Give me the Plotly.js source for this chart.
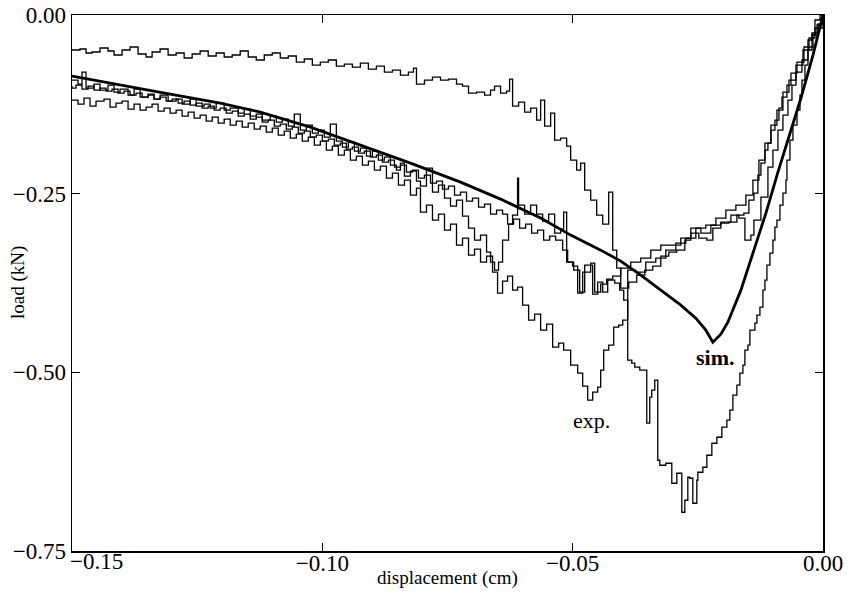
<!DOCTYPE html>
<html>
<head>
<meta charset="utf-8">
<script src="https://cdn.plot.ly/plotly-3.0.1.min.js"></script>
<style>html,body{margin:0;padding:0;background:#fff;}#chart{width:853px;height:599px;}</style>
</head>
<body>
<div id="chart"></div>
<script>
// ---------------- data (displacement in cm, load in kN) ----------------
var simX = [-0.1500,-0.1404,-0.1304,-0.1204,-0.1124,-0.1024,-0.0924,-0.0824,-0.0724,-0.0644,-0.0564,-0.0504,-0.0444,-0.0404,-0.0364,-0.0324,-0.0284,-0.0254,-0.0234,-0.0220,-0.0204,-0.0190,-0.0164,-0.0138,-0.0114,-0.0090,-0.0066,-0.0044,-0.0020,0.0000];
var simY = [-0.0854,-0.0980,-0.1106,-0.1232,-0.1358,-0.1568,-0.1820,-0.2072,-0.2338,-0.2576,-0.2842,-0.3080,-0.3290,-0.3444,-0.3640,-0.3850,-0.4060,-0.4242,-0.4410,-0.4578,-0.4466,-0.4298,-0.3850,-0.3290,-0.2772,-0.2198,-0.1652,-0.1162,-0.0560,0.0000];

// experiment 1 (upper curve)
var expAX = [-0.1500,-0.1484,-0.1472,-0.1460,-0.1444,-0.1428,-0.1416,-0.1400,-0.1384,-0.1368,-0.1352,-0.1340,-0.1324,-0.1308,-0.1292,-0.1276,-0.1260,-0.1244,-0.1228,-0.1212,-0.1196,-0.1180,-0.1164,-0.1148,-0.1132,-0.1116,-0.1100,-0.1084,-0.1068,-0.1052,-0.1036,-0.1020,-0.1004,-0.0988,-0.0972,-0.0956,-0.0940,-0.0924,-0.0908,-0.0892,-0.0876,-0.0860,-0.0844,-0.0828,-0.0818,-0.0812,-0.0796,-0.0780,-0.0764,-0.0748,-0.0732,-0.0720,-0.0708,-0.0692,-0.0676,-0.0664,-0.0656,-0.0644,-0.0632,-0.0626,-0.0620,-0.0608,-0.0596,-0.0584,-0.0572,-0.0564,-0.0556,-0.0544,-0.0536,-0.0524,-0.0512,-0.0504,-0.0492,-0.0484,-0.0476,-0.0464,-0.0452,-0.0440,-0.0428,-0.0420,-0.0412,-0.0404,-0.0388,-0.0372,-0.0356,-0.0340,-0.0324,-0.0308,-0.0292,-0.0276,-0.0264,-0.0248,-0.0232,-0.0220,-0.0204,-0.0188,-0.0172,-0.0158,-0.0148,-0.0138,-0.0130,-0.0124,-0.0116,-0.0110,-0.0104,-0.0096,-0.0088,-0.0082,-0.0072,-0.0064,-0.0052,-0.0038,-0.0030,-0.0022,-0.0012,-0.0004,0.0000];
var expAY = [-0.0490,-0.0476,-0.0532,-0.0518,-0.0462,-0.0504,-0.0560,-0.0490,-0.0448,-0.0546,-0.0588,-0.0518,-0.0476,-0.0560,-0.0532,-0.0602,-0.0546,-0.0504,-0.0574,-0.0532,-0.0588,-0.0560,-0.0504,-0.0588,-0.0630,-0.0560,-0.0532,-0.0602,-0.0574,-0.0658,-0.0616,-0.0700,-0.0658,-0.0630,-0.0714,-0.0686,-0.0728,-0.0672,-0.0756,-0.0714,-0.0798,-0.0770,-0.0840,-0.0798,-0.0742,-0.0966,-0.0910,-0.0868,-0.0910,-0.0896,-0.0966,-0.0994,-0.1092,-0.1078,-0.1120,-0.1050,-0.0994,-0.1092,-0.1064,-0.0896,-0.1274,-0.1218,-0.1358,-0.1302,-0.1470,-0.1190,-0.1554,-0.1372,-0.1750,-0.1722,-0.1834,-0.2030,-0.2170,-0.2072,-0.2450,-0.2590,-0.2800,-0.2926,-0.2478,-0.3290,-0.3542,-0.3822,-0.3738,-0.3640,-0.3570,-0.3514,-0.3374,-0.3318,-0.3290,-0.3150,-0.3052,-0.3122,-0.3150,-0.2982,-0.2912,-0.2898,-0.2800,-0.2772,-0.2590,-0.2492,-0.2240,-0.2072,-0.1890,-0.1792,-0.1610,-0.1470,-0.1302,-0.1148,-0.0980,-0.0812,-0.0658,-0.0448,-0.0350,-0.0252,-0.0140,-0.0042,0.0000];

// experiment 2 (middle curve, close to the simulation)
var expBX = [-0.1500,-0.1488,-0.1480,-0.1472,-0.1456,-0.1444,-0.1428,-0.1416,-0.1404,-0.1388,-0.1376,-0.1364,-0.1348,-0.1336,-0.1324,-0.1308,-0.1292,-0.1280,-0.1264,-0.1252,-0.1236,-0.1224,-0.1212,-0.1196,-0.1184,-0.1168,-0.1156,-0.1144,-0.1132,-0.1120,-0.1104,-0.1092,-0.1080,-0.1068,-0.1056,-0.1044,-0.1032,-0.1020,-0.1008,-0.0996,-0.0984,-0.0972,-0.0960,-0.0948,-0.0936,-0.0924,-0.0912,-0.0900,-0.0888,-0.0876,-0.0864,-0.0852,-0.0844,-0.0836,-0.0824,-0.0812,-0.0804,-0.0792,-0.0780,-0.0768,-0.0756,-0.0744,-0.0732,-0.0720,-0.0708,-0.0696,-0.0684,-0.0672,-0.0664,-0.0656,-0.0648,-0.0640,-0.0628,-0.0620,-0.0610,-0.0608,-0.0596,-0.0584,-0.0572,-0.0560,-0.0548,-0.0536,-0.0524,-0.0518,-0.0512,-0.0500,-0.0490,-0.0480,-0.0464,-0.0456,-0.0444,-0.0432,-0.0420,-0.0404,-0.0384,-0.0364,-0.0344,-0.0324,-0.0304,-0.0284,-0.0264,-0.0244,-0.0224,-0.0204,-0.0184,-0.0168,-0.0156,-0.0144,-0.0138,-0.0124,-0.0110,-0.0100,-0.0090,-0.0080,-0.0070,-0.0062,-0.0054,-0.0042,-0.0030,-0.0020,-0.0010,0.0000];
var expBY = [-0.0910,-0.0966,-0.0798,-0.1022,-0.0966,-0.1050,-0.0980,-0.1078,-0.1036,-0.1120,-0.1036,-0.1148,-0.1106,-0.1176,-0.1120,-0.1204,-0.1176,-0.1246,-0.1176,-0.1274,-0.1246,-0.1302,-0.1232,-0.1330,-0.1302,-0.1372,-0.1316,-0.1414,-0.1386,-0.1470,-0.1414,-0.1498,-0.1456,-0.1554,-0.1386,-0.1610,-0.1540,-0.1652,-0.1610,-0.1708,-0.1526,-0.1764,-0.1848,-0.1778,-0.1904,-0.1862,-0.1974,-0.1904,-0.2030,-0.1988,-0.2100,-0.2170,-0.2072,-0.2254,-0.2184,-0.2324,-0.2394,-0.2142,-0.2478,-0.2380,-0.2562,-0.2674,-0.2590,-0.2814,-0.2982,-0.3150,-0.3080,-0.3318,-0.3458,-0.3570,-0.3458,-0.3150,-0.2926,-0.2800,-0.2282,-0.2660,-0.2786,-0.2660,-0.2786,-0.2884,-0.2786,-0.3052,-0.2996,-0.2758,-0.3458,-0.3514,-0.3892,-0.3598,-0.3472,-0.3878,-0.3766,-0.3696,-0.3654,-0.3542,-0.3458,-0.3402,-0.3290,-0.3220,-0.3220,-0.3122,-0.2982,-0.3052,-0.2940,-0.2898,-0.2800,-0.2842,-0.3150,-0.3080,-0.2870,-0.2548,-0.2128,-0.1890,-0.1610,-0.1400,-0.1190,-0.0980,-0.0798,-0.0630,-0.0448,-0.0280,-0.0126,0.0000];

// experiment 3 (lower curve, peak marked "exp.")
var expCX = [-0.1500,-0.1488,-0.1476,-0.1464,-0.1452,-0.1436,-0.1424,-0.1412,-0.1400,-0.1388,-0.1376,-0.1364,-0.1352,-0.1340,-0.1328,-0.1316,-0.1304,-0.1292,-0.1280,-0.1268,-0.1256,-0.1244,-0.1232,-0.1220,-0.1208,-0.1196,-0.1184,-0.1172,-0.1160,-0.1148,-0.1136,-0.1124,-0.1112,-0.1100,-0.1088,-0.1076,-0.1064,-0.1052,-0.1040,-0.1028,-0.1016,-0.1004,-0.0992,-0.0980,-0.0968,-0.0956,-0.0944,-0.0932,-0.0920,-0.0908,-0.0896,-0.0884,-0.0872,-0.0860,-0.0848,-0.0836,-0.0824,-0.0812,-0.0804,-0.0792,-0.0780,-0.0768,-0.0756,-0.0744,-0.0732,-0.0720,-0.0708,-0.0696,-0.0684,-0.0672,-0.0660,-0.0650,-0.0640,-0.0630,-0.0620,-0.0610,-0.0600,-0.0588,-0.0576,-0.0564,-0.0552,-0.0540,-0.0528,-0.0518,-0.0504,-0.0490,-0.0480,-0.0470,-0.0460,-0.0450,-0.0444,-0.0438,-0.0428,-0.0418,-0.0408,-0.0400,-0.0390,-0.0390,-0.0374,-0.0354,-0.0334,-0.0314,-0.0294,-0.0274,-0.0254,-0.0234,-0.0214,-0.0194,-0.0174,-0.0154,-0.0140,-0.0128,-0.0116,-0.0104,-0.0092,-0.0080,-0.0068,-0.0054,-0.0040,-0.0028,-0.0016,0.0000];
var expCY = [-0.1190,-0.1246,-0.1162,-0.1274,-0.1204,-0.1176,-0.1288,-0.1232,-0.1204,-0.1316,-0.1246,-0.1330,-0.1288,-0.1246,-0.1344,-0.1302,-0.1372,-0.1330,-0.1414,-0.1358,-0.1442,-0.1400,-0.1484,-0.1428,-0.1512,-0.1456,-0.1540,-0.1484,-0.1568,-0.1512,-0.1596,-0.1554,-0.1638,-0.1582,-0.1680,-0.1624,-0.1722,-0.1666,-0.1764,-0.1708,-0.1820,-0.1764,-0.1890,-0.1834,-0.1960,-0.1890,-0.2030,-0.1974,-0.2100,-0.2044,-0.2170,-0.2114,-0.2282,-0.2212,-0.2380,-0.2310,-0.2520,-0.2422,-0.2758,-0.2660,-0.2870,-0.2786,-0.3010,-0.2926,-0.3220,-0.3122,-0.3360,-0.3276,-0.3458,-0.3374,-0.3598,-0.3892,-0.3724,-0.3654,-0.3850,-0.3808,-0.4060,-0.4270,-0.4186,-0.4410,-0.4326,-0.4648,-0.4592,-0.4690,-0.4900,-0.5012,-0.5194,-0.5390,-0.5278,-0.5208,-0.4970,-0.4690,-0.4620,-0.4368,-0.4340,-0.4270,-0.4228,-0.3570,-0.3598,-0.3458,-0.3402,-0.3290,-0.3192,-0.3122,-0.2982,-0.2940,-0.2842,-0.2730,-0.2660,-0.2520,-0.2310,-0.2030,-0.1792,-0.1540,-0.1330,-0.1078,-0.0910,-0.0700,-0.0490,-0.0322,-0.0182,0.0000];

// experiment 4 (largest peak)
var expDX = [0.0000,-0.0006,-0.0016,-0.0022,-0.0030,-0.0036,-0.0042,-0.0046,-0.0052,-0.0060,-0.0066,-0.0072,-0.0074,-0.0080,-0.0086,-0.0092,-0.0096,-0.0100,-0.0106,-0.0112,-0.0116,-0.0120,-0.0126,-0.0132,-0.0136,-0.0146,-0.0150,-0.0156,-0.0160,-0.0166,-0.0172,-0.0180,-0.0186,-0.0192,-0.0202,-0.0212,-0.0222,-0.0232,-0.0240,-0.0250,-0.0252,-0.0260,-0.0266,-0.0270,-0.0276,-0.0282,-0.0292,-0.0302,-0.0314,-0.0326,-0.0330,-0.0336,-0.0342,-0.0346,-0.0352,-0.0352,-0.0366,-0.0376,-0.0382,-0.0390,-0.0390,-0.0398,-0.0406,-0.0416,-0.0430,-0.0440,-0.0450,-0.0460,-0.0476,-0.0486,-0.0498,-0.0510,-0.0520,-0.0534,-0.0546,-0.0558,-0.0570,-0.0582,-0.0594,-0.0606,-0.0618,-0.0630,-0.0640,-0.0652,-0.0664,-0.0676,-0.0688,-0.0700,-0.0712,-0.0724,-0.0736,-0.0748,-0.0760,-0.0772,-0.0784,-0.0796,-0.0808,-0.0820,-0.0832,-0.0844,-0.0856,-0.0868,-0.0880,-0.0892,-0.0904,-0.0916,-0.0928,-0.0940,-0.0952,-0.0964,-0.0976,-0.0988,-0.1000,-0.1012,-0.1024,-0.1036,-0.1048,-0.1060,-0.1072,-0.1084,-0.1096,-0.1108,-0.1120,-0.1132,-0.1144,-0.1156,-0.1168,-0.1180,-0.1192,-0.1204,-0.1216,-0.1228,-0.1240,-0.1252,-0.1264,-0.1276,-0.1288,-0.1300,-0.1312,-0.1324,-0.1336,-0.1348,-0.1360,-0.1372,-0.1384,-0.1396,-0.1408,-0.1420,-0.1432,-0.1444,-0.1456,-0.1468,-0.1480,-0.1492,-0.1500];
var expDY = [0.0000,-0.0070,-0.0280,-0.0490,-0.0700,-0.0910,-0.1120,-0.1330,-0.1540,-0.1750,-0.2030,-0.2310,-0.2492,-0.2660,-0.2870,-0.2968,-0.3150,-0.3332,-0.3500,-0.3710,-0.3850,-0.4088,-0.4200,-0.4312,-0.4410,-0.4620,-0.4690,-0.4900,-0.5012,-0.5180,-0.5320,-0.5530,-0.5670,-0.5768,-0.5908,-0.5992,-0.6160,-0.6328,-0.6398,-0.6510,-0.6832,-0.6482,-0.6468,-0.6790,-0.6958,-0.6412,-0.6552,-0.6272,-0.6300,-0.6230,-0.5110,-0.5250,-0.5348,-0.5712,-0.5712,-0.4970,-0.4928,-0.4872,-0.4830,-0.4788,-0.3990,-0.3850,-0.3752,-0.3710,-0.3878,-0.3738,-0.3906,-0.3500,-0.3878,-0.3570,-0.3458,-0.3290,-0.3150,-0.3094,-0.3150,-0.3010,-0.3052,-0.2926,-0.2982,-0.2856,-0.2926,-0.2786,-0.2730,-0.2786,-0.2646,-0.2688,-0.2562,-0.2604,-0.2478,-0.2520,-0.2394,-0.2436,-0.2324,-0.2352,-0.2240,-0.2282,-0.2170,-0.2198,-0.2100,-0.2128,-0.2030,-0.2058,-0.1960,-0.1988,-0.1904,-0.1932,-0.1848,-0.1876,-0.1792,-0.1820,-0.1736,-0.1764,-0.1680,-0.1708,-0.1624,-0.1652,-0.1568,-0.1596,-0.1526,-0.1554,-0.1470,-0.1498,-0.1428,-0.1456,-0.1386,-0.1414,-0.1344,-0.1372,-0.1302,-0.1330,-0.1274,-0.1302,-0.1232,-0.1260,-0.1204,-0.1232,-0.1176,-0.1204,-0.1148,-0.1176,-0.1120,-0.1148,-0.1092,-0.1120,-0.1064,-0.1092,-0.1036,-0.1064,-0.1022,-0.1050,-0.0994,-0.1036,-0.0980,-0.1022,-0.0994];

var xTickVals = [-0.15, -0.10, -0.05, 0.00];
var xTickText = ['', '\u22120.10', '\u22120.05', '0.00'];   // first label is drawn beside its tick, as in the original
var xFirstLabel = '\u22120.15';
var yTickVals = [-0.75, -0.50, -0.25, 0.00];
var yTickText = ['\u22120.75', '\u22120.50', '\u22120.25', '0.00'];
var xTitle = 'displacement (cm)';
var yTitle = 'load (kN)';

// ---------------- chart ----------------
var FONT = 'Liberation Serif, Times New Roman, serif';
var TICKFONT = {family: FONT, size: 23, color: '#000'};
function expTrace(x, y) {
  return {x: x, y: y, type: 'scatter', mode: 'lines',
          line: {color: '#000', width: 1.3, shape: 'hv'}, hoverinfo: 'skip', showlegend: false};
}
var traces = [
  expTrace(expAX, expAY),
  expTrace(expBX, expBY),
  expTrace(expCX, expCY),
  expTrace(expDX, expDY),
  {x: simX, y: simY, type: 'scatter', mode: 'lines',
   line: {color: '#000', width: 2.8}, hoverinfo: 'skip', showlegend: false}
];

var axisCommon = {
  showgrid: false, zeroline: false, showline: true, linecolor: '#000', linewidth: 1.5,
  mirror: 'allticks', ticks: 'inside', ticklen: 8, tickwidth: 1.3, tickcolor: '#000',
  tickfont: TICKFONT
};

var layout = {
  width: 853, height: 599,
  margin: {l: 72, r: 30, t: 15, b: 48},
  paper_bgcolor: '#fff', plot_bgcolor: '#fff',
  xaxis: Object.assign({}, axisCommon, {
    range: [-0.15, 0], tickmode: 'array', tickvals: xTickVals, ticktext: xTickText,
    ticklabelstandoff: -9
  }),
  yaxis: Object.assign({}, axisCommon, {
    range: [-0.75, 0], tickmode: 'array', tickvals: yTickVals, ticktext: yTickText
  }),
  annotations: [
    {x: xTickVals[0], y: -0.0187, xref: 'x', yref: 'paper', text: xFirstLabel, showarrow: false,
     xanchor: 'left', yanchor: 'middle', xshift: -3, borderpad: 0, font: TICKFONT},
    {x: 0.5, y: -0.0504, xref: 'paper', yref: 'paper', text: xTitle, showarrow: false,
     xanchor: 'center', yanchor: 'middle', font: {family: FONT, size: 19, color: '#000'}},
    {x: -0.0719, y: 0.5, xref: 'paper', yref: 'paper', text: yTitle, showarrow: false,
     textangle: -90, xanchor: 'center', yanchor: 'middle', font: {family: FONT, size: 19, color: '#000'}},
    {x: -0.0214, y: -0.479, xref: 'x', yref: 'y', text: '<b>sim.</b>', showarrow: false,
     font: {family: FONT, size: 22, color: '#000'}},
    {x: -0.0462, y: -0.568, xref: 'x', yref: 'y', text: 'exp.', showarrow: false,
     font: {family: FONT, size: 22, color: '#000'}}
  ]
};

Plotly.newPlot('chart', traces, layout, {displayModeBar: false, staticPlot: true});
</script>
</body>
</html>
